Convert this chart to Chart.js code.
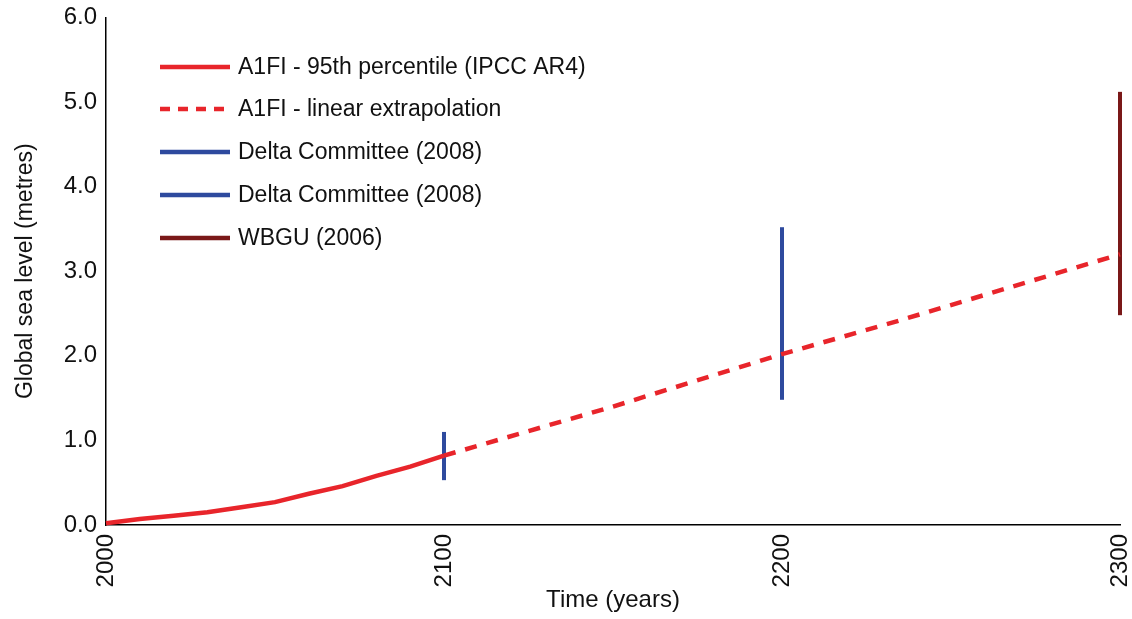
<!DOCTYPE html>
<html><head>
<script src="https://cdn.jsdelivr.net/npm/chart.js@4"></script>
<style>body{margin:0;background:#fff}#wrap{width:1132px;height:619px}</style>
</head><body><div id="wrap"><canvas id="c"></canvas></div>
<script>
const years = [2000, 2010, 2020, 2030, 2040, 2050, 2060, 2070, 2080, 2090, 2100];
const ar4 = [0.02, 0.07, 0.11, 0.15, 0.21, 0.27, 0.37, 0.46, 0.58, 0.69, 0.82];
const extraYears = [2100, 2150, 2200, 2235, 2300];
const extra = [0.82, 1.4, 2.02, 2.42, 3.2];
const delta1 = [[2100, 0.53], [2100, 1.1]];
const delta2 = [[2200, 1.48], [2200, 3.52]];
const wbgu = [[2300, 2.48], [2300, 5.12]];
const xTicks = [2000, 2100, 2200, 2300];
const legendLabels = ['A1FI - 95th percentile (IPCC AR4)', 'A1FI - linear extrapolation', 'Delta Committee (2008)', 'Delta Committee (2008)', 'WBGU (2006)'];

const RED = '#e8252b', BLUE = '#2e4a9e', DARK = '#7a1818';
const FONT = '"Liberation Sans", Arial';
const pts = (xs, ys) => xs.map((x, i) => ({x, y: ys[i]}));
const pr = a => a.map(p => ({x: p[0], y: p[1]}));

const legendPlugin = {
  id: 'inlegend',
  afterDraw(chart) {
    const ctx = chart.ctx;
    const rows = [67, 109, 152, 195, 238];
    const styles = [[RED, []], [RED, [10, 8]], [BLUE, []], [BLUE, []], [DARK, []]];
    ctx.save();
    ctx.font = '23px ' + FONT;
    ctx.textBaseline = 'middle';
    rows.forEach((y, i) => {
      ctx.strokeStyle = styles[i][0];
      ctx.setLineDash(styles[i][1]);
      ctx.lineWidth = 4.5;
      ctx.beginPath(); ctx.moveTo(160, y); ctx.lineTo(230, y); ctx.stroke();
      ctx.fillStyle = '#111';
      ctx.fillText(legendLabels[i], 238, y + 1);
    });
    ctx.restore();
  }
};

new Chart(document.getElementById('c'), {
  type: 'line',
  data: {
    datasets: [
      {data: pts(years, ar4), borderColor: RED, borderWidth: 4.5, clip: false},
      {data: pts(extraYears, extra), borderColor: RED, borderWidth: 4.5, borderDash: [12, 10], clip: false},
      {data: pr(delta1), borderColor: BLUE, borderWidth: 4, clip: false},
      {data: pr(delta2), borderColor: BLUE, borderWidth: 4, clip: false},
      {data: pr(wbgu), borderColor: DARK, borderWidth: 4, clip: false}
    ]
  },
  plugins: [legendPlugin],
  options: {
    animation: false, responsive: true, maintainAspectRatio: false,
    layout: {padding: {top: 11, right: 0, left: 8}},
    elements: {point: {radius: 0}, line: {tension: 0}},
    plugins: {legend: {display: false}, tooltip: {enabled: false}},
    scales: {
      x: {
        type: 'linear', min: 2000, max: 2300,
        afterBuildTicks: s => { s.ticks = xTicks.map(v => ({value: v})); },
        afterFit: s => { s.height = 94; s.paddingRight = 12; },
        grid: {display: false, drawTicks: true, tickLength: 6, color: '#000'},
        border: {color: '#000', width: 1.5},
        ticks: {color: '#111', font: {size: 24, family: FONT}, maxRotation: 90, minRotation: 90, callback: v => String(v)},
        title: {display: true, text: 'Time (years)', color: '#111', font: {size: 24, family: FONT}, padding: {top: -42}}
      },
      y: {
        min: 0, max: 6, ticks: {stepSize: 1, color: '#111', font: {size: 24, family: FONT}, callback: v => v.toFixed(1)},
        afterFit: s => { s.width = 98; },
        grid: {display: false, drawTicks: true, tickLength: 6, color: '#000'},
        border: {color: '#000', width: 1.5},
        title: {display: true, text: 'Global sea level (metres)', color: '#111', font: {size: 23, family: FONT}}
      }
    }
  }
});
</script></body></html>
